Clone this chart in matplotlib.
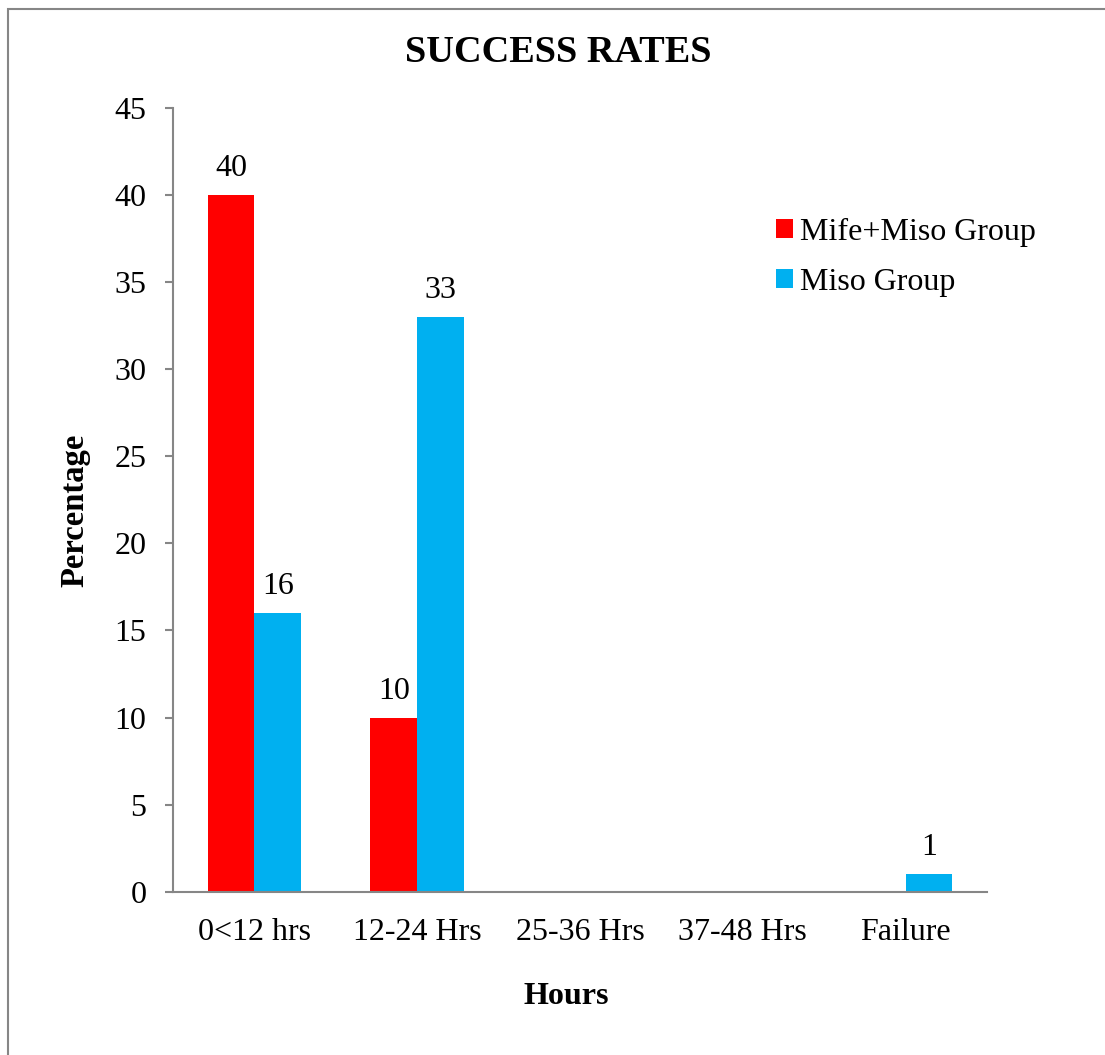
import numpy as np
import matplotlib
matplotlib.use("Agg")
import matplotlib.pyplot as plt
from matplotlib.patches import Rectangle

# success rates by time to completion
categories = ["0<12 hrs", "12-24 Hrs", "25-36 Hrs", "37-48 Hrs", "Failure"]
mife_miso = [40, 10, 0, 0, 0]
miso_only = [16, 33, 0, 0, 1]
series_names = ["Mife+Miso Group", "Miso Group"]
yticks = [0, 5, 10, 15, 20, 25, 30, 35, 40, 45]

RED = "#FF0000"
BLUE = "#00B0F0"
GREY = "#868686"

plt.rcParams["font.family"] = ["Liberation Serif", "DejaVu Serif"]

W, H = 1105, 1055
fig = plt.figure(figsize=(W / 100, H / 100), dpi=100)

# outer chart frame (only top/left edges fall inside the canvas)
fig.patches.append(Rectangle((8 / W, -0.05), 1.2, 1 - 9 / H + 0.05,
                             transform=fig.transFigure, fill=False,
                             edgecolor=GREY, linewidth=1.5))

ax_left, ax_right = 173, 987
ax_top, ax_bot = 108, 891.7
ax = fig.add_axes([ax_left / W, 1 - ax_bot / H,
                   (ax_right - ax_left) / W, (ax_bot - ax_top) / H])

x = np.arange(len(categories))
bw = 0.288
b1 = ax.bar(x - bw / 2, mife_miso, bw, color=RED, label=series_names[0])
b2 = ax.bar(x + bw / 2, miso_only, bw, color=BLUE, label=series_names[1])

for bars, vals in ((b1, mife_miso), (b2, miso_only)):
    ax.bar_label(bars, labels=[str(v) if v else "" for v in vals],
                 padding=8.5, fontsize=23)

ax.set_xlim(-0.5, len(categories) - 0.5)
ax.set_ylim(0, 45)
ax.set_yticks(yticks)
ax.set_xticks(x)
ax.set_xticklabels(categories)

for s in ("top", "right"):
    ax.spines[s].set_visible(False)
for s in ("left", "bottom"):
    ax.spines[s].set_color(GREY)
    ax.spines[s].set_linewidth(1.5)

ax.tick_params(axis="y", length=6, width=1.5, color=GREY, pad=13, labelsize=23)
ax.tick_params(axis="x", length=0, pad=19, labelsize=23)

ax.set_ylabel("Percentage", fontsize=23.5, fontweight="bold", labelpad=17.5)
ax.set_xlabel("Hours", fontsize=23, fontweight="bold", labelpad=25)
ax.xaxis.label.set_x(0.483)
ax.yaxis.label.set_y(0.487)

fig.text(558 / W, 1 - 52 / H, "SUCCESS RATES", fontsize=27.5, fontweight="bold",
         ha="center", va="center")

ax.legend(loc="upper left", bbox_to_anchor=(0.725, 0.876), frameon=False,
          fontsize=23, handlelength=0.55, handleheight=0.55, handletextpad=0.2,
          labelspacing=0.65, borderaxespad=0)

fig.savefig("out.png", dpi=100)
